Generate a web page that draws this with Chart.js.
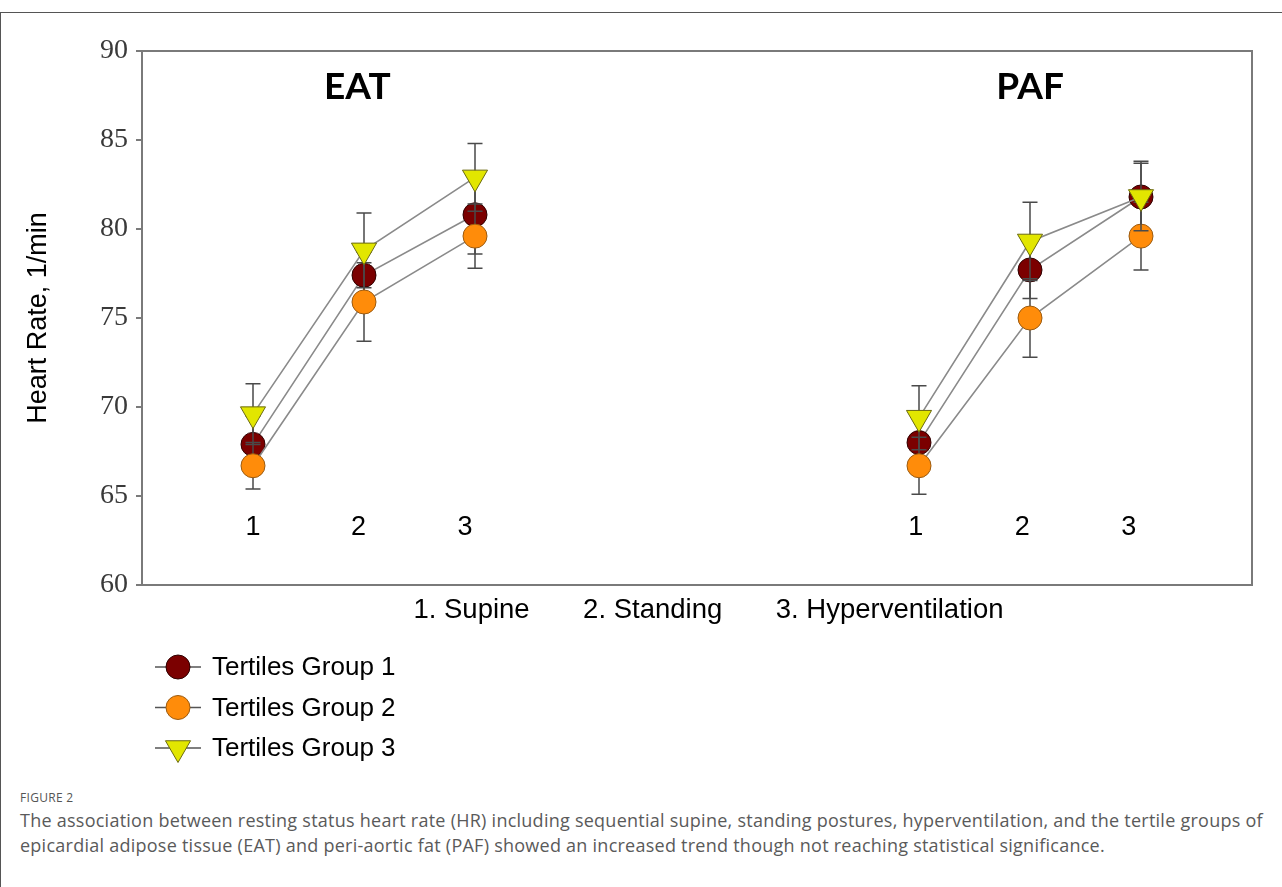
<!DOCTYPE html>
<html>
<head>
<meta charset="utf-8">
<title>Heart rate by tertile group</title>
<script src="https://cdn.jsdelivr.net/npm/chart.js@4.4.1/dist/chart.umd.min.js"></script>
<style>
  html, body { margin: 0; padding: 0; background: #fff; }
  body { width: 1282px; height: 887px; position: relative; overflow: hidden; }
  .frame {
    position: absolute; left: 0; top: 12px; width: 1290px; height: 900px;
    box-sizing: border-box; border: 1px solid #555;
  }
  #chart-wrap { position: absolute; left: 0; top: 0; width: 1282px; height: 780px; }
  .fig-label {
    position: absolute; left: 20px; top: 789px;
    font: 12px "Open Sans", sans-serif; color: #555; letter-spacing: 0.3px;
  }
  .caption {
    position: absolute; left: 20px; top: 808px;
    font: 18px/25px "Open Sans", sans-serif; color: #5a5a5a;
    letter-spacing: 0.25px; white-space: nowrap;
  }
</style>
</head>
<body>
<div class="frame"></div>
<div id="chart-wrap"><canvas id="hr-chart" width="1282" height="780"></canvas></div>
<div class="fig-label">FIGURE 2</div>
<div class="caption">The association between resting status heart rate (HR) including sequential supine, standing postures, hyperventilation, and the tertile groups of<br>epicardial adipose tissue (EAT) and peri-aortic fat (PAF) showed an increased trend though not reaching statistical significance.</div>

<script>
// stages: 1. supine, 2. standing, 3. hyperventilation
const stageLabels = ["1", "2", "3"];
const eatX = [1, 2, 3];
const pafX = [7, 8, 9];
// where the stage numbers sit under each panel (a little tighter than the points)
const eatLabelX = [1, 1.95, 2.91];
const pafLabelX = [6.97, 7.93, 8.89];
const panelTitles = ["EAT", "PAF"];
const panelTitleX = [1.94, 8.0];
const groupNames = ["Tertiles Group 1", "Tertiles Group 2", "Tertiles Group 3"];
const yTicks = [60, 65, 70, 75, 80, 85, 90];

// mean heart rate, 1/min
const eatG1 = [67.9, 77.4, 80.8];
const eatG2 = [66.7, 75.9, 79.6];
const eatG3 = [69.6, 78.8, 82.9];
const pafG1 = [68.0, 77.7, 81.8];
const pafG2 = [66.7, 75.0, 79.6];
const pafG3 = [69.4, 79.3, 81.8];

// error (SE)
const eatErrG1 = [1.6, 1.3, 2.2];
const eatErrG2 = [1.3, 2.2, 1.8];
const eatErrG3 = [1.7, 2.1, 1.9];
const pafErrG1 = [1.5, 1.6, 2.0];
const pafErrG2 = [1.6, 2.2, 1.9];
const pafErrG3 = [1.8, 2.2, 1.9];

const groupStyles = [
  { fill: "#7b0000", edge: "#2e0000", shape: "circle", radius: 12, rotation: 0 },
  { fill: "#ff8c0a", edge: "#9a5a10", shape: "circle", radius: 12, rotation: 0 },
  { fill: "#e2e600", edge: "#6b6a10", shape: "triangle", radius: 14.5, rotation: 180 },
];

function series(eat, paf) {
  // null point in the middle breaks the line between the two panels
  return eatX.map((x, i) => ({ x: x, y: eat[i] }))
    .concat([{ x: 5, y: null }])
    .concat(pafX.map((x, i) => ({ x: x, y: paf[i] })));
}

function makeDataset(i, eat, paf, eatErr, pafErr) {
  const s = groupStyles[i];
  return {
    label: groupNames[i],
    data: series(eat, paf),
    errors: eatErr.concat([null], pafErr),
    borderColor: "#8a8a8a",
    borderWidth: 1.6,
    pointStyle: s.shape,
    pointRadius: s.radius,
    pointHoverRadius: s.radius,
    pointRotation: s.rotation,
    pointBackgroundColor: s.fill,
    pointBorderColor: s.edge,
    pointBorderWidth: 1,
    spanGaps: false,
    order: 3 - i,
  };
}

const errorBars = {
  id: "errorBars",
  beforeDatasetDraw(chart, args) {
    const ds = chart.data.datasets[args.index];
    const yScale = chart.scales.y;
    const ctx = chart.ctx;
    ctx.save();
    ctx.strokeStyle = "#4a4a4a";
    ctx.lineWidth = 1.5;
    args.meta.data.forEach((pt, i) => {
      const v = ds.data[i].y;
      const err = ds.errors[i];
      if (v == null || err == null) return;
      const top = yScale.getPixelForValue(v + err);
      const bot = yScale.getPixelForValue(v - err);
      ctx.beginPath();
      ctx.moveTo(pt.x, top);
      ctx.lineTo(pt.x, bot);
      ctx.moveTo(pt.x - 7.5, top);
      ctx.lineTo(pt.x + 7.5, top);
      ctx.moveTo(pt.x - 7.5, bot);
      ctx.lineTo(pt.x + 7.5, bot);
      ctx.stroke();
    });
    ctx.restore();
  },
};

const frameAndLabels = {
  id: "frameAndLabels",
  beforeDatasetsDraw(chart) {
    const { ctx, chartArea: a } = chart;
    const x = chart.scales.x;
    const y = chart.scales.y;
    ctx.save();
    ctx.strokeStyle = "#7a7a7a";
    ctx.lineWidth = 2;
    ctx.strokeRect(a.left, a.top, a.right - a.left, a.bottom - a.top);

    ctx.fillStyle = "#000";
    ctx.textAlign = "center";
    ctx.textBaseline = "middle";
    ctx.font = "bold 37px Lato";
    panelTitles.forEach((t, i) => {
      ctx.fillText(t, x.getPixelForValue(panelTitleX[i]), y.getPixelForValue(88));
    });

    ctx.font = "27px 'Liberation Sans'";
    eatLabelX.concat(pafLabelX).forEach((v, i) => {
      ctx.fillText(stageLabels[i % 3], x.getPixelForValue(v), y.getPixelForValue(63.2));
    });
    ctx.restore();
  },
  afterDraw(chart) {
    // legend below the plot: line through marker, then label
    const ctx = chart.ctx;
    chart.data.datasets.forEach((ds, i) => {
      const cy = 667 + i * 40.5;
      ctx.save();
      ctx.strokeStyle = "#555";
      ctx.lineWidth = 1.5;
      ctx.beginPath();
      ctx.moveTo(155, cy);
      ctx.lineTo(201, cy);
      ctx.stroke();
      ctx.fillStyle = ds.pointBackgroundColor;
      ctx.strokeStyle = ds.pointBorderColor;
      ctx.lineWidth = 1;
      Chart.helpers.drawPoint(ctx, {
        pointStyle: ds.pointStyle,
        radius: ds.pointRadius,
        rotation: ds.pointRotation,
        borderWidth: 1,
      }, 178, cy);
      ctx.fillStyle = "#000";
      ctx.font = "26px 'Liberation Sans'";
      ctx.textAlign = "left";
      ctx.textBaseline = "middle";
      ctx.fillText(ds.label, 212, cy + 1);
      ctx.restore();
    });
  },
};

new Chart(document.getElementById("hr-chart"), {
  type: "line",
  data: {
    datasets: [
      makeDataset(0, eatG1, pafG1, eatErrG1, pafErrG1),
      makeDataset(1, eatG2, pafG2, eatErrG2, pafErrG2),
      makeDataset(2, eatG3, pafG3, eatErrG3, pafErrG3),
    ],
  },
  options: {
    responsive: false,
    animation: false,
    events: [],
    layout: { padding: { left: 0, top: 51, right: 30, bottom: 145 } },
    plugins: { legend: { display: false }, tooltip: { enabled: false } },
    scales: {
      x: {
        type: "linear",
        min: 0,
        max: 10,
        grid: { display: false },
        border: { display: false },
        ticks: { display: false },
        title: {
          display: true,
          text: "   1. Supine       2. Standing       3. Hyperventilation",
          color: "#000",
          font: { family: "'Liberation Sans'", size: 27.5 },
          padding: { top: 0, bottom: 8 },
        },
        afterFit(scale) { scale.height = 50; },
      },
      y: {
        min: 60,
        max: 90,
        afterBuildTicks(scale) { scale.ticks = yTicks.map((v) => ({ value: v })); },
        grid: { drawOnChartArea: false, drawTicks: true, tickLength: 6, color: "#7a7a7a", lineWidth: 2 },
        border: { display: false },
        ticks: {
          color: "#3a3a3a",
          padding: 8,
          font: { family: "'Liberation Serif'", size: 28 },
        },
        title: {
          display: true,
          text: "Heart Rate, 1/min",
          color: "#000",
          font: { family: "'Liberation Sans'", size: 27 },
          padding: { top: 22, bottom: 0 },
        },
        afterFit(scale) { scale.width = 142; },
      },
    },
  },
  plugins: [errorBars, frameAndLabels],
});
</script>
</body>
</html>
